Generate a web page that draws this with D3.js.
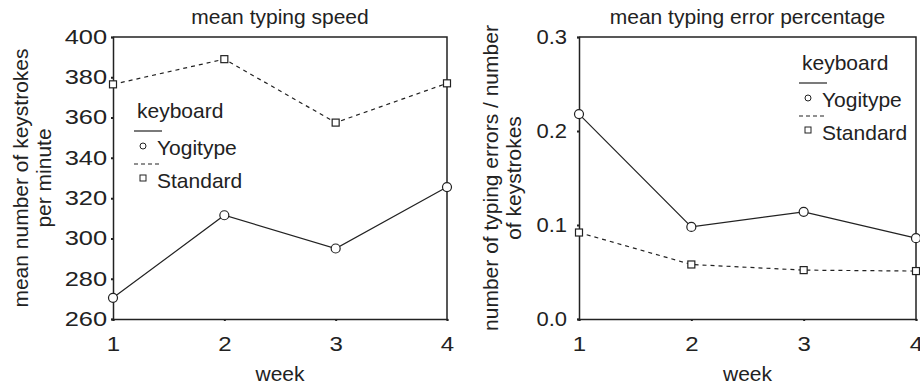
<!DOCTYPE html>
<html>
<head>
<meta charset="utf-8">
<script src="https://cdn.jsdelivr.net/npm/d3@7"></script>
<style>
  body { margin: 0; background: #fff; }
  svg text { font-family: "Liberation Sans", Arial, sans-serif; fill: #222; }
</style>
</head>
<body>
<svg width="920" height="388"></svg>
<script>
// data
let weeks = [1, 2, 3, 4]
let seriesNames = ['Yogitype', 'Standard']
let speedYogitype = [270.5, 311.5, 295, 325.5]
let speedStandard = [376.5, 389, 357.5, 377]
let errorYogitype = [0.218, 0.098, 0.114, 0.086]
let errorStandard = [0.092, 0.058, 0.052, 0.051]
let speedTicks = [260, 280, 300, 320, 340, 360, 380, 400]
let errorTicks = [0.0, 0.1, 0.2, 0.3]

let svg = d3.select('svg')
let ink = '#222'
let fontSize = '21px'

let panels = [
  {
    title: 'mean typing speed',
    yLabel: ['mean number of keystrokes', 'per minute'],
    series: [speedYogitype, speedStandard],
    ticks: speedTicks,
    domain: [260, 400],
    fmt: d3.format('d'),
    left: 113, right: 447,
    labelX: [28, 51],
    tickGap: 6, tickStretch: 1.27,
    legend: { x: 134, y: 118 }
  },
  {
    title: 'mean typing error percentage',
    yLabel: ['number of typing errors / number', 'of keystrokes'],
    series: [errorYogitype, errorStandard],
    ticks: errorTicks,
    domain: [0, 0.3],
    fmt: d3.format('.1f'),
    left: 579, right: 916,
    labelX: [498, 521],
    tickGap: 12, tickStretch: 1.1,
    legend: { x: 799, y: 70 }
  }
]

let plotTop = 37
let plotBottom = 319

panels.forEach(p => {
  let xScale = d3.scaleLinear()
    .domain([1, 4])
    .range([p.left, p.right])
  let yScale = d3.scaleLinear()
    .domain(p.domain)
    .range([plotBottom, plotTop])

  let g = svg.append('g')

  // frame (top and right)
  g.append('path')
    .attr('d', `M${p.left},${plotTop}H${p.right}V${plotBottom}`)
    .attr('fill', 'none')
    .attr('stroke', ink)
    .attr('stroke-width', 1.5)

  // axes
  let yAxis = g.append('g')
    .attr('transform', `translate(${p.left},0)`)
    .call(d3.axisLeft(yScale).tickValues(p.ticks).tickFormat(p.fmt).tickSize(2))
  let xAxis = g.append('g')
    .attr('transform', `translate(0,${plotBottom})`)
    .call(d3.axisBottom(xScale).tickValues(weeks).tickFormat(d3.format('d')).tickSize(2).tickPadding(16))
  ;[yAxis, xAxis].forEach(a => {
    a.select('.domain').attr('stroke', ink).attr('stroke-width', 1.5)
    a.selectAll('.tick line').attr('stroke', ink).attr('stroke-width', 2)
    a.selectAll('.tick text')
      .attr('fill', ink)
      .style('font-size', '20px')
      .style('font-family', '"Liberation Sans", Arial, sans-serif')
  })
  // the tick digits in the picture are drawn wider than normal
  yAxis.selectAll('.tick text')
    .attr('x', -p.tickGap / p.tickStretch)
    .attr('transform', `scale(${p.tickStretch},1)`)
  xAxis.selectAll('.tick text')
    .attr('transform', 'scale(1.2,1)')

  // titles
  g.append('text')
    .attr('x', (p.left + p.right) / 2)
    .attr('y', 24)
    .attr('text-anchor', 'middle')
    .style('font-size', fontSize)
    .text(p.title)
  g.append('text')
    .attr('x', (p.left + p.right) / 2)
    .attr('y', 381)
    .attr('text-anchor', 'middle')
    .style('font-size', fontSize)
    .text('week')
  p.yLabel.forEach((line, i) => {
    g.append('text')
      .attr('transform', `translate(${p.labelX[i]},${(plotTop + plotBottom) / 2}) rotate(-90)`)
      .attr('text-anchor', 'middle')
      .style('font-size', fontSize)
      .text(line)
  })

  // lines and markers
  let line = d3.line()
    .x((d, i) => xScale(weeks[i]))
    .y(d => yScale(d))

  p.series.forEach((values, s) => {
    g.append('path')
      .attr('d', line(values))
      .attr('fill', 'none')
      .attr('stroke', ink)
      .attr('stroke-width', 1.2)
      .attr('stroke-dasharray', s === 1 ? '4,4' : null)

    let marks = g.selectAll(null)
      .data(values)
      .enter()
    if (s === 0) {
      marks.append('circle')
        .attr('cx', (d, i) => xScale(weeks[i]))
        .attr('cy', d => yScale(d))
        .attr('r', 4.5)
        .attr('fill', '#fff')
        .attr('stroke', ink)
        .attr('stroke-width', 1.2)
    } else {
      marks.append('rect')
        .attr('x', (d, i) => xScale(weeks[i]) - 3.5)
        .attr('y', d => yScale(d) - 3.5)
        .attr('width', 7)
        .attr('height', 7)
        .attr('fill', '#fff')
        .attr('stroke', ink)
        .attr('stroke-width', 1.2)
    }
  })

  // legend
  let lg = g.append('g')
    .attr('transform', `translate(${p.legend.x},${p.legend.y})`)
  lg.append('text')
    .attr('x', 3)
    .attr('y', 0)
    .style('font-size', fontSize)
    .text('keyboard')
  seriesNames.forEach((name, s) => {
    let ly = 13 + s * 33
    lg.append('line')
      .attr('x1', 0).attr('x2', 28)
      .attr('y1', ly).attr('y2', ly)
      .attr('stroke', ink)
      .attr('stroke-width', 1.2)
      .attr('stroke-dasharray', s === 1 ? '4,3' : null)
    if (s === 0) {
      lg.append('circle')
        .attr('cx', 9).attr('cy', ly + 15)
        .attr('r', 3)
        .attr('fill', '#fff')
        .attr('stroke', ink)
    } else {
      lg.append('rect')
        .attr('x', 6).attr('y', ly + 11)
        .attr('width', 6).attr('height', 6)
        .attr('fill', '#fff')
        .attr('stroke', ink)
    }
    lg.append('text')
      .attr('x', 23)
      .attr('y', ly + 24)
      .style('font-size', fontSize)
      .text(name)
  })
})
</script>
</body>
</html>
